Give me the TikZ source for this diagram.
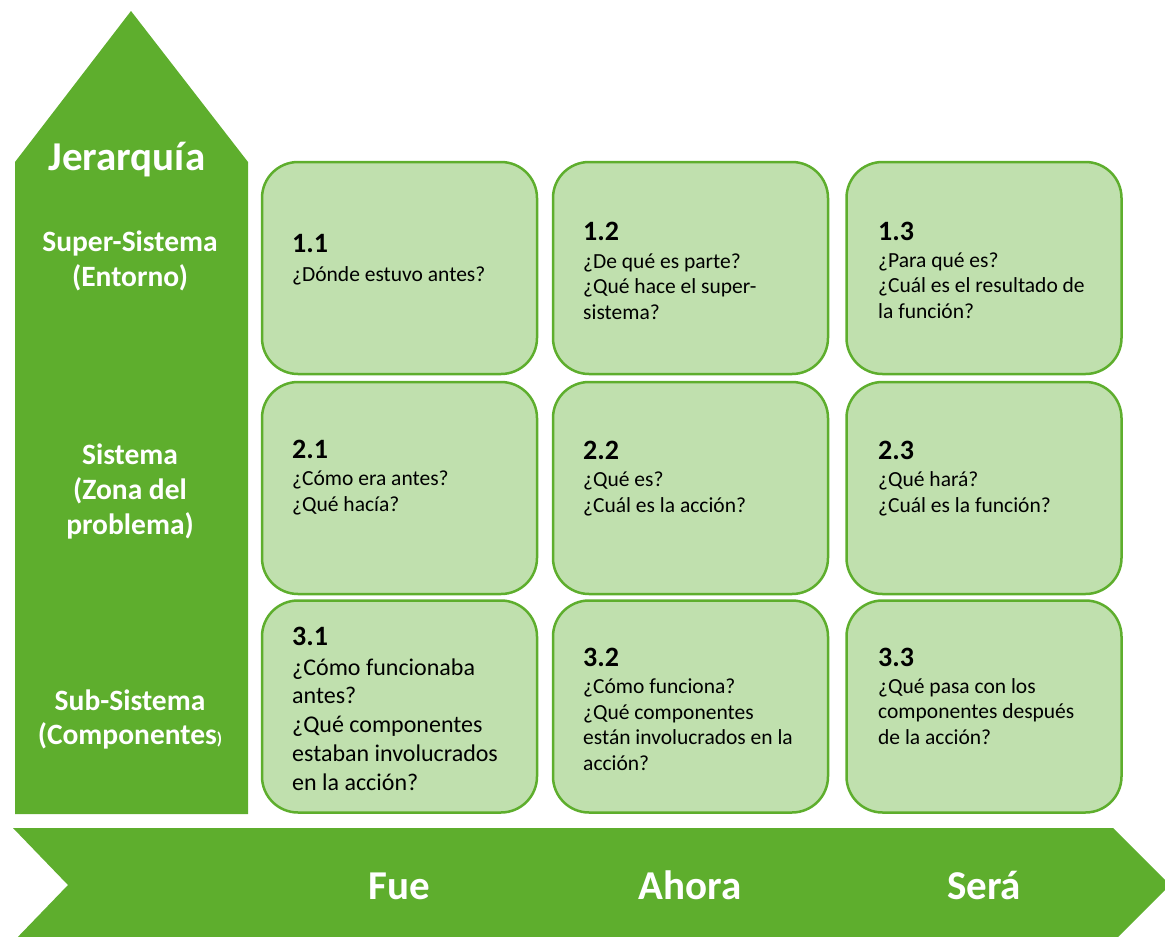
\documentclass[tikz,border=0pt]{standalone}
\usepackage{fontspec}
\setmainfont{Carlito}

\definecolor{verde}{RGB}{94,174,45}
\definecolor{verdeclaro}{RGB}{192,224,174}

\tikzset{
  caja/.style={draw=verde, fill=verdeclaro, line width=2.5pt, rounded corners=36pt,
    minimum width=275pt, minimum height=212pt, inner sep=0pt},
  numero/.style={anchor=base west, inner sep=0pt, font=\bfseries\fontsize{28}{33}\selectfont},
  texto/.style={anchor=base west, inner sep=0pt, align=left, font=\fontsize{21.5}{25.5}\selectfont},
  etiqueta/.style={anchor=base, inner sep=0pt, text=white, align=center,
    font=\bfseries\fontsize{29.5}{34.5}\selectfont},
  tiempo/.style={anchor=base, inner sep=0pt, text=white, font=\bfseries\fontsize{41}{48}\selectfont}
}

\begin{document}
\begin{tikzpicture}[x=1pt,y=-1pt]
    % Recorta al tamaño de la figura.
    \clip (0,0) rectangle (1165,937);

    % Flecha vertical de la jerarquía.
    \fill[verde] (15,814) -- (15,162) -- (131,11) -- (248,162) -- (248,814) -- cycle;

    % Flecha horizontal del tiempo.
    \fill[verde] (13,828) -- (1113,828) -- (1170,885) -- (1113,942) -- (13,942) -- (68,885) -- cycle;

    % Etiquetas de los niveles (la base es la de la última línea).
    \node[etiqueta, font=\bfseries\fontsize{41}{48}\selectfont] (jer) at (127,170) {Jerarquía};
    \node[etiqueta] (sup) at (130,286) {Super-Sistema\\(Entorno)};
    \node[etiqueta, font=\bfseries\fontsize{29.5}{35}\selectfont] (sis) at (130,534) {Sistema\\(Zona del\\problema)};
    \node[etiqueta, font=\bfseries\fontsize{29.5}{34}\selectfont] (sub) at (130,744)
        {Sub-Sistema\\(Componentes{\fontsize{17}{20}\selectfont)}};

    % Etiquetas del tiempo.
    \node[tiempo] (fue) at (399,899) {Fue};
    \node[tiempo] (aho) at (690,899) {Ahora};
    \node[tiempo] (ser) at (984,899) {Será};

    % Cajas de la matriz.
    \node[caja] (c11) at (399.5,268) {};
    \node[caja] (c12) at (690.5,268) {};
    \node[caja] (c13) at (984,268) {};
    \node[caja] (c21) at (399.5,488) {};
    \node[caja] (c22) at (690.5,488) {};
    \node[caja] (c23) at (984,488) {};
    \node[caja] (c31) at (399.5,706.5) {};
    \node[caja] (c32) at (690.5,706.5) {};
    \node[caja] (c33) at (984,706.5) {};

    % Números de cada caja.
    \node[numero] (n11) at (292,252) {1.1};
    \node[numero] (n12) at (583,240) {1.2};
    \node[numero] (n13) at (878,240) {1.3};
    \node[numero] (n21) at (292,458) {2.1};
    \node[numero] (n22) at (583,459) {2.2};
    \node[numero] (n23) at (878,459) {2.3};
    \node[numero] (n31) at (292,645) {3.1};
    \node[numero] (n32) at (583,666) {3.2};
    \node[numero] (n33) at (878,666) {3.3};

    % Preguntas de cada caja (la base es la de la última línea).
    \node[texto] (t11) at (292,281) {¿Dónde estuvo antes?};
    \node[texto] (t12) at (583,319) {¿De qué es parte?\\¿Qué hace el super-\\sistema?};
    \node[texto] (t13) at (878,318) {¿Para qué es?\\¿Cuál es el resultado de\\la función?};
    \node[texto] (t21) at (292,511) {¿Cómo era antes?\\¿Qué hacía?};
    \node[texto] (t22) at (583,512) {¿Qué es?\\¿Cuál es la acción?};
    \node[texto] (t23) at (878,512) {¿Qué hará?\\¿Cuál es la función?};
    \node[texto, font=\fontsize{24}{28.7}\selectfont] (t31) at (292,790)
        {¿Cómo funcionaba\\antes?\\¿Qué componentes\\estaban involucrados\\en la acción?};
    \node[texto] (t32) at (583,770) {¿Cómo funciona?\\¿Qué componentes\\están involucrados en la\\acción?};
    \node[texto] (t33) at (878,744) {¿Qué pasa con los\\componentes después\\de la acción?};
\end{tikzpicture}
\end{document}
